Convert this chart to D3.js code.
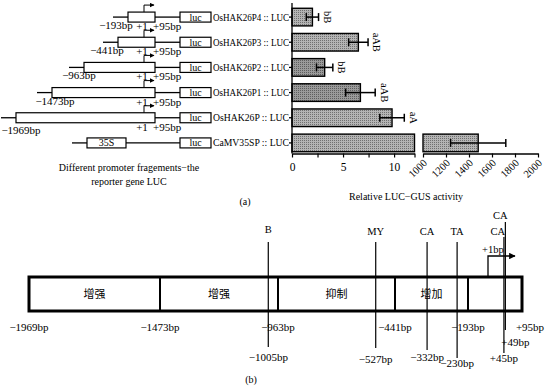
<!DOCTYPE html>
<html><head><meta charset="utf-8">
<script src="https://cdn.jsdelivr.net/npm/d3@7"></script>
<style>
body{margin:0;background:#fff}
svg text{font-family:"Liberation Serif","Times New Roman","DejaVu Serif",serif !important;fill:#000}
svg text.cjk{font-family:"Noto Sans CJK SC","Noto Sans CJK JP",sans-serif !important}
</style></head>
<body><svg id="c" width="549" height="389"></svg>
<script>
// ---------- data ----------
const constructs = ["OsHAK26P4","OsHAK26P3","OsHAK26P2","OsHAK26P1","OsHAK26P","CaMV35SP"];
const startBp = [-193,-441,-963,-1473,-1969,null];
const activity = [2.0,6.5,3.2,6.7,9.8,1480];
const activityErr = [0.6,0.95,0.8,1.45,1.2,240];
const sigLetters = ["bB","aAB","bB","aAB","aA",""];
const lowTicks = [0,5,10];
const highTicks = [1000,1200,1400,1600,1800,2000];
const boundBp = [-1969,-1473,-963,-441,-193,95];
const regionNames = ["增强","增强","抑制","增加",""];
const elemNames = ["B","MY","CA","TA","CA","CA"];
const elemBp = [-1005,-527,-332,-230,45,49];
const elemLabels = ["−1005bp","−527bp","−332bp","−230bp","+45bp","+49bp"];

const svg = d3.select("#c");
const fmtBp = v => (v<0?"−"+(-v):"+"+v)+"bp";

// ---------- panel (a): bars ----------
const y = d3.scaleBand().domain(constructs).range([4.5,155.5]).paddingInner(0.3).paddingOuter(0.15);
const x1 = d3.scaleLinear().domain([0,12]).range([292,414.5]);
const x2 = d3.scaleLinear().domain([1000,2000]).range([423,538]);
const xv = v => v>12 ? x2(v) : x1(v);
const axisY = 153.5;

const defs = svg.append("defs");
function pat(id, bg, dot){
  const p = defs.append("pattern").attr("id",id).attr("width",2).attr("height",2).attr("patternUnits","userSpaceOnUse");
  p.append("rect").attr("width",2).attr("height",2).attr("fill",bg);
  p.append("rect").attr("width",1).attr("height",1).attr("fill",dot);
}
pat("pl","#b4b4b4","#707070");
pat("pd","#9a9a9a","#5e5e5e");
const darkBars = ["OsHAK26P2","OsHAK26P1"];

const bars = svg.append("g");
constructs.forEach((c,i)=>{
  const v = activity[i], e = activityErr[i];
  const fill = darkBars.includes(c) ? "url(#pd)" : "url(#pl)";
  const yy = y(c), h = y.bandwidth(), cy = yy + h/2;
  if (v > 12){
    bars.append("rect").attr("x",x1(0)).attr("y",yy).attr("width",x1(12)-x1(0)).attr("height",h)
      .attr("fill",fill).attr("stroke","#000").attr("stroke-width",1.4);
    bars.append("rect").attr("x",x2(1000)).attr("y",yy).attr("width",x2(v)-x2(1000)).attr("height",h)
      .attr("fill",fill).attr("stroke","#000").attr("stroke-width",1.4);
  } else {
    bars.append("rect").attr("x",x1(0)).attr("y",yy).attr("width",x1(v)-x1(0)).attr("height",h)
      .attr("fill",fill).attr("stroke","#000").attr("stroke-width",1.4);
  }
  const a = xv(v-e), b = xv(v+e);
  bars.append("line").attr("x1",a).attr("x2",b).attr("y1",cy).attr("y2",cy).attr("stroke","#000").attr("stroke-width",1.5);
  [a,b].forEach(xx=>bars.append("line").attr("x1",xx).attr("x2",xx).attr("y1",cy-4).attr("y2",cy+4).attr("stroke","#000").attr("stroke-width",1.5));
  if (sigLetters[i]){
    bars.append("text").attr("transform",`translate(${b+9},${cy}) rotate(90)`)
      .attr("text-anchor","middle").attr("dy","0.35em").attr("font-size",10.5).text(sigLetters[i]);
  }
});

// y axis
const ax = svg.append("g").attr("stroke","#000").attr("stroke-width",1.3);
ax.append("line").attr("x1",292).attr("x2",292).attr("y1",3).attr("y2",axisY);
constructs.forEach(c=>ax.append("line").attr("x1",289).attr("x2",292).attr("y1",y(c)+y.bandwidth()/2).attr("y2",y(c)+y.bandwidth()/2));

// x axis segment 1
const g1 = svg.append("g").attr("transform",`translate(0,${axisY})`)
  .call(d3.axisBottom(x1).tickValues([0,2.5,5,7.5,10,12]).tickSize(4).tickSizeOuter(0).tickFormat(d=>lowTicks.includes(d)?d:""));
g1.attr("font-family",null);
g1.select(".domain").attr("stroke-width",1.3);
g1.selectAll(".tick line").attr("stroke-width",1.2);
g1.selectAll(".tick text").attr("font-size",11.5).attr("dy","0.9em");
// x axis segment 2
const g2 = svg.append("g").attr("transform",`translate(0,${axisY})`)
  .call(d3.axisBottom(x2).tickValues(highTicks).tickSize(4).tickSizeOuter(0).tickFormat(d3.format("d")));
g2.attr("font-family",null);
g2.select(".domain").attr("stroke-width",1.3);
g2.selectAll(".tick line").attr("stroke-width",1.2);
g2.selectAll(".tick text").attr("font-size",10.5)
  .attr("text-anchor","end").attr("transform","translate(3,6) rotate(-45)").attr("dy","0.35em").attr("y",0).attr("x",-2);

svg.append("text").attr("x",406).attr("y",200).attr("text-anchor","middle").attr("font-size",10).text("Relative LUC−GUS activity");

// ---------- panel (a): constructs ----------
const xc = d3.scaleLinear().domain([-1969,-1473,-963,-441,-193,1,95]).range([16,52,84,118,128,144,155]);
const startLabelDx = [-12,-11,-5,3,5];
const lucL = 180, lucR = 211, bh = 10;
const cg = svg.append("g").attr("stroke","#000").attr("fill","none");
svg.append("defs").append("marker").attr("id","ah").attr("viewBox","0 0 10 10").attr("refX",9).attr("refY",5)
  .attr("markerWidth",5).attr("markerHeight",5).attr("orient","auto")
  .append("path").attr("d","M0,0L10,5L0,10z").attr("fill","#000");
constructs.forEach((c,i)=>{
  const cy = y(c)+y.bandwidth()/2;
  let L, R;
  if (startBp[i]!==null){ L = xc(startBp[i]); R = xc(95); }
  else { L = 87; R = 126; }
  cg.append("line").attr("x1",L-15).attr("x2",L).attr("y1",cy).attr("y2",cy).attr("stroke-width",1.3);
  cg.append("rect").attr("x",L).attr("y",cy-bh/2).attr("width",R-L).attr("height",bh).attr("stroke-width",1.2).attr("fill","#fff");
  cg.append("line").attr("x1",R).attr("x2",lucL).attr("y1",cy).attr("y2",cy).attr("stroke-width",1.3);
  cg.append("rect").attr("x",lucL).attr("y",cy-bh/2).attr("width",lucR-lucL).attr("height",bh).attr("stroke-width",1.2).attr("fill","#fff");
  svg.append("text").attr("x",(lucL+lucR)/2).attr("y",cy+3.5).attr("text-anchor","middle").attr("font-size",10).text("luc");
  svg.append("text").attr("x",289).attr("y",cy).attr("dy","0.35em").attr("text-anchor","end")
    .attr("font-size",10).attr("textLength",76).attr("lengthAdjust","spacingAndGlyphs").text(c+" :: LUC");
  if (startBp[i]!==null){
    const ax0 = xc(1);
    cg.append("path").attr("d",`M${ax0},${cy-bh/2}V${cy-bh/2-7}H${ax0+10}`).attr("stroke-width",1).attr("marker-end","url(#ah)");
    const off = startBp[i]<-1900 ? 16 : 12;
    svg.append("text").attr("x",L+startLabelDx[i]).attr("y",cy+off).attr("text-anchor","middle").attr("font-size",11).text(fmtBp(startBp[i]));
    svg.append("text").attr("x",ax0-2).attr("y",cy+13).attr("text-anchor","middle").attr("font-size",11).text("+1");
    svg.append("text").attr("x",R-2).attr("y",cy+13).attr("text-anchor","start").attr("font-size",11).text(fmtBp(95));
  } else {
    svg.append("text").attr("x",(L+R)/2).attr("y",cy+3.5).attr("text-anchor","middle").attr("font-size",10).text("35S");
  }
});
svg.append("text").attr("x",129).attr("y",171).attr("text-anchor","middle").attr("font-size",10).text("Different promoter fragements−the");
svg.append("text").attr("x",129).attr("y",185).attr("text-anchor","middle").attr("font-size",10).text("reporter gene LUC");
svg.append("text").attr("x",245).attr("y",205).attr("text-anchor","middle").attr("font-size",10).text("(a)");

// ---------- panel (b) ----------
const xb = d3.scaleLinear().domain([-1969,-1473,-963,-441,-193,1,95]).range([29,160,278,395,468,488,522]);
const bTop = 277, bBot = 311;
const gb = svg.append("g");
gb.append("rect").attr("x",xb(-1969)).attr("y",bTop).attr("width",xb(95)-xb(-1969)).attr("height",bBot-bTop)
  .attr("fill","none").attr("stroke","#000").attr("stroke-width",3);
boundBp.slice(1,-1).forEach(b=>gb.append("line").attr("x1",xb(b)).attr("x2",xb(b)).attr("y1",bTop).attr("y2",bBot).attr("stroke","#000").attr("stroke-width",2));
regionNames.forEach((n,i)=>{
  if(!n) return;
  gb.append("text").attr("class","cjk").attr("x",(xb(boundBp[i])+xb(boundBp[i+1]))/2).attr("y",bTop+(bBot-bTop)/2)
    .attr("dy","0.35em").attr("text-anchor","middle").attr("font-size",11).text(n);
});
boundBp.forEach((b,i)=>{
  const xx = i===boundBp.length-1 ? xb(b)+8 : xb(b);
  gb.append("text").attr("x",xx).attr("y",331).attr("text-anchor","middle").attr("font-size",11).text(fmtBp(b));
});
// element lines: [lineTop, lineBottom, nameBaseline, labelBaseline, nameDx, labelAnchor]
const elemLayout = [
  [242,347,237,361,0,"middle"],
  [242,348,239,363,0,"middle"],
  [242,350,239,361,0,"middle"],
  [242,358,239,367,0,"middle"],
  [237,353,239,362,-6,"middle"],
  [222,330,223,346,-5,"start"]
];
elemBp.forEach((b,i)=>{
  const L = elemLayout[i], xx = xb(b);
  gb.append("line").attr("x1",xx).attr("x2",xx).attr("y1",L[0]).attr("y2",L[1]).attr("stroke","#000").attr("stroke-width",1.2);
  gb.append("text").attr("x",xx+L[4]).attr("y",L[2]-4).attr("text-anchor","middle").attr("font-size",10.5).text(elemNames[i]);
  gb.append("text").attr("x",L[5]==="start"?xx-4:xx).attr("y",L[3]).attr("text-anchor",L[5]).attr("font-size",11).text(elemLabels[i]);
});
// TSS arrow
const tx = xb(1);
gb.append("path").attr("d",`M${tx},${bTop}V256H${tx+27}`).attr("fill","none").attr("stroke","#000").attr("stroke-width",1.3).attr("marker-end","url(#ah)");
gb.append("text").attr("x",tx-6).attr("y",253).attr("text-anchor","start").attr("font-size",10.5).text("+1bp");
svg.append("text").attr("x",251).attr("y",383).attr("text-anchor","middle").attr("font-size",10).text("(b)");
</script></body></html>
